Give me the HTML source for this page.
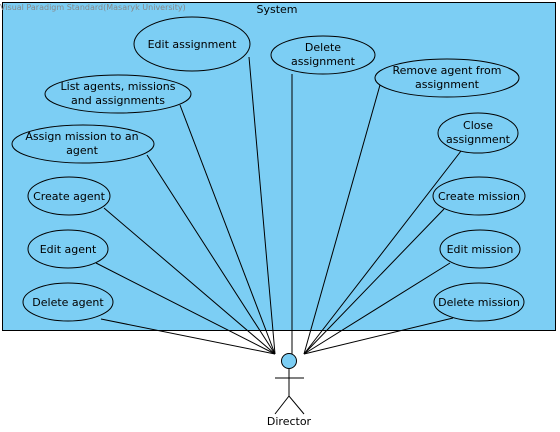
<html><body style="margin:0;background:#fff">
<svg width="560" height="432" xmlns="http://www.w3.org/2000/svg" font-family="DejaVu Sans, sans-serif" font-size="11">
<rect x="2.5" y="2.5" width="553" height="328" fill="#7ccef4" stroke="#000"/>
<text x="0" y="10" font-size="8" fill="#888">Visual Paradigm Standard(Masaryk University)</text>
<text x="277" y="13" text-anchor="middle">System</text>
<g fill="#7ccef4" stroke="#000">
<ellipse cx="192" cy="44" rx="58" ry="27"/>
<ellipse cx="323" cy="55" rx="52" ry="19"/>
<ellipse cx="118" cy="94" rx="73" ry="19"/>
<ellipse cx="447" cy="78" rx="72" ry="19"/>
<ellipse cx="83" cy="144" rx="71" ry="19"/>
<ellipse cx="478" cy="133" rx="40" ry="20"/>
<ellipse cx="69" cy="196" rx="41" ry="19"/>
<ellipse cx="479" cy="196" rx="46" ry="19"/>
<ellipse cx="68" cy="249" rx="40" ry="19"/>
<ellipse cx="480" cy="249" rx="40" ry="19"/>
<ellipse cx="68" cy="302" rx="45" ry="19"/>
<ellipse cx="479" cy="302" rx="45" ry="19"/>
</g>
<g stroke="#000" stroke-width="1">
<line x1="249" y1="57" x2="275" y2="354"/>
<line x1="180" y1="105" x2="275" y2="354"/>
<line x1="147" y1="155" x2="275" y2="354"/>
<line x1="104" y1="208" x2="275" y2="354"/>
<line x1="96" y1="263" x2="275" y2="354"/>
<line x1="101" y1="319" x2="275" y2="354"/>
<line x1="292" y1="74" x2="292" y2="354"/>
<line x1="380" y1="85" x2="304" y2="354"/>
<line x1="461" y1="151" x2="304" y2="354"/>
<line x1="444" y1="209" x2="304" y2="354"/>
<line x1="450" y1="263" x2="304" y2="354"/>
<line x1="453" y1="318" x2="304" y2="354"/>
</g>
<g text-anchor="middle">
<text x="192" y="48">Edit assignment</text>
<text x="323" y="51">Delete</text><text x="323" y="65">assignment</text>
<text x="118" y="90">List agents, missions</text><text x="118" y="104">and assignments</text>
<text x="447" y="74">Remove agent from</text><text x="447" y="88">assignment</text>
<text x="82" y="140">Assign mission to an</text><text x="82" y="154">agent</text>
<text x="478" y="129">Close</text><text x="478" y="143">assignment</text>
<text x="69" y="200">Create agent</text>
<text x="479" y="200">Create mission</text>
<text x="68" y="253">Edit agent</text>
<text x="480" y="253">Edit mission</text>
<text x="68" y="306">Delete agent</text>
<text x="479" y="306">Delete mission</text>
<text x="289" y="425">Director</text>
</g>
<circle cx="289" cy="361" r="7.5" fill="#7ccef4" stroke="#000"/>
<g stroke="#000" fill="none">
<line x1="289" y1="369" x2="289" y2="396"/>
<line x1="275" y1="378" x2="304" y2="378"/>
<polyline points="275,414 289,396 304,414"/>
</g>
</svg>
</body></html>
